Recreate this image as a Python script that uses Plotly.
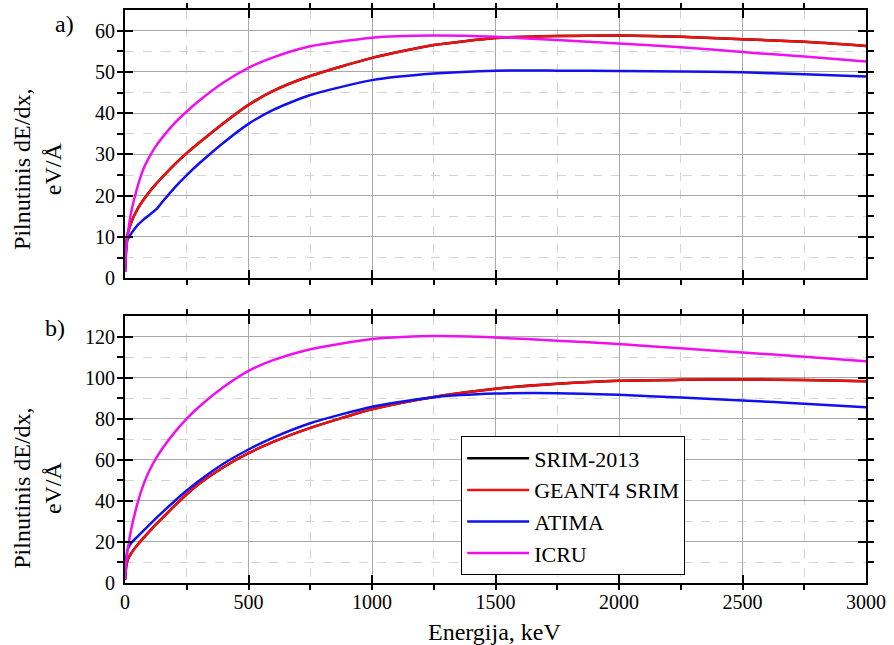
import plotly.graph_objects as go

energy = [0, 5, 10, 25, 50, 75, 100, 125, 150, 200, 250, 300, 400, 500, 600, 750,
          1000, 1250, 1500, 1750, 2000, 2250, 2500, 2750, 3000]

# panel a)
srim_a = [1.5, 8, 10.5, 13.5, 16.7, 19.0, 21.0, 22.8, 24.4, 27.5, 30.3, 32.8, 37.6, 42.0, 45.4, 49.0,
          53.4, 56.5, 58.2, 58.7, 58.8, 58.5, 57.9, 57.3, 56.3]
geant_a = [1.5, 8, 10.5, 13.5, 16.7, 19.0, 21.0, 22.8, 24.4, 27.5, 30.3, 32.8, 37.6, 42.0, 45.4, 49.0,
           53.4, 56.5, 58.2, 58.7, 58.8, 58.5, 57.9, 57.3, 56.3]
atima_a = [1.5, 7, 9.3, 10.8, 12.8, 14.2, 15.4, 16.6, 18.4, 21.9, 25, 27.8, 32.9, 37.4, 40.8, 44.4,
           48.0, 49.6, 50.3, 50.3, 50.2, 50.1, 49.9, 49.4, 48.9]
icru_a = [1.5, 7, 10, 16, 22, 26.5, 29.5, 32, 34, 37.5, 40.4, 43, 47.5, 51.0, 53.5, 56.2,
          58.3, 58.8, 58.5, 57.7, 56.9, 56.0, 54.8, 53.7, 52.5]

# panel b)
srim_b = [1.5, 8, 11, 14.5, 18.5, 22, 25.3, 28.5, 31.5, 37.5, 43.2, 48.3, 56.5, 63.2, 68.7, 75.5,
          84.6, 90.6, 94.6, 97, 98.5, 98.9, 99.1, 98.8, 98.2]
geant_b = [1.5, 8, 11, 14.5, 18.5, 22, 25.3, 28.5, 31.5, 37.5, 43.2, 48.3, 56.5, 63.2, 68.7, 75.5,
           84.6, 90.6, 94.6, 97, 98.5, 98.9, 99.1, 98.8, 98.2]
atima_b = [2, 12, 16, 19.5, 22.5, 25.5, 28.5, 31.5, 34.3, 39.8, 45, 49.8, 58.2, 65, 70.8, 77.8,
           85.8, 90.4, 92.2, 92.4, 91.6, 90.3, 88.9, 87.3, 85.6]
icru_b = [2, 10, 15.5, 26, 38.5, 48, 55, 60.5, 65.2, 73.2, 80, 85.8, 95.5, 103.3, 108.5, 113.8,
          118.8, 120.2, 119.5, 118, 116.3, 114.3, 112.2, 110.2, 108]

names = ["SRIM-2013", "GEANT4 SRIM", "ATIMA", "ICRU"]
colors = ["#000000", "#ee1111", "#1111ee", "#ee11ee"]

FONT = "Liberation Serif"

fig = go.Figure()
for name, col, ya, yb in zip(names, colors, [srim_a, geant_a, atima_a, icru_a],
                             [srim_b, geant_b, atima_b, icru_b]):
    fig.add_trace(go.Scatter(x=energy, y=ya, mode="lines", name=name, showlegend=False,
                             line=dict(color=col, width=2.5, shape="spline", smoothing=0.6),
                             xaxis="x2", yaxis="y2"))
    fig.add_trace(go.Scatter(x=energy, y=yb, mode="lines", name=name, showlegend=True,
                             line=dict(color=col, width=2.5, shape="spline", smoothing=0.6),
                             xaxis="x", yaxis="y"))

grid_major = "#a8a8a8"
grid_minor = "#d4d4d4"

def xax(show_labels, anchor):
    return dict(range=[0, 3000], dtick=500, tick0=0, showgrid=True, gridcolor=grid_major, gridwidth=1,
                ticks="inside", ticklen=8, tickwidth=2, tickcolor="black",
                showline=True, linecolor="black", linewidth=2, mirror="allticks",
                showticklabels=show_labels, zeroline=False, anchor=anchor,
                tickfont=dict(family=FONT, size=20, color="black"),
                minor=dict(dtick=250, ticklen=5, tickwidth=1.5, tickcolor="black",
                           showgrid=True, gridcolor=grid_minor, griddash="dash", gridwidth=1))

def yax(rng, dt, mdt, dom, anchor):
    return dict(range=rng, dtick=dt, tick0=0, domain=dom, showgrid=True, gridcolor=grid_major, gridwidth=1,
                ticks="inside", ticklen=8, tickwidth=2, tickcolor="black",
                showline=True, linecolor="black", linewidth=2, mirror="allticks",
                zeroline=False, anchor=anchor, ticklabelstandoff=4,
                tickfont=dict(family=FONT, size=20, color="black"),
                minor=dict(dtick=mdt, ticklen=6, tickwidth=1.5, tickcolor="black",
                           showgrid=True, gridcolor=grid_minor, griddash="dash", gridwidth=1))

fig.update_layout(
    width=894, height=645,
    margin=dict(l=125, r=24, t=8, b=62),
    paper_bgcolor="white", plot_bgcolor="white",
    font=dict(family=FONT, color="black"),
    xaxis=xax(True, "y"),
    yaxis=yax([0, 130], 20, 10, [0, 0.466], "x"),
    xaxis2=xax(False, "y2"),
    yaxis2=yax([0, 65], 10, 5, [0.532, 1], "x2"),
    legend=dict(x=0.4537, y=0.2557, xanchor="left", yanchor="top",
                bgcolor="white", bordercolor="black", borderwidth=1,
                font=dict(family=FONT, size=22, color="black"),
                itemwidth=62, tracegroupgap=0),
    annotations=[
        dict(text="a)", x=64, y=22, xref="paper", yref="paper", showarrow=False,
             font=dict(family=FONT, size=24)),
        dict(text="b)", x=55, y=327, xref="paper", yref="paper", showarrow=False,
             font=dict(family=FONT, size=24)),
        dict(text="Pilnutinis dE/dx,<br>eV/Å", x=37, y=168, xref="paper", yref="paper",
             showarrow=False, textangle=-90, font=dict(family=FONT, size=24)),
        dict(text="Pilnutinis dE/dx,<br>eV/Å", x=37, y=488, xref="paper", yref="paper",
             showarrow=False, textangle=-90, font=dict(family=FONT, size=24)),
        dict(text="Energija, keV", x=497, y=632, xref="paper", yref="paper", showarrow=False,
             font=dict(family=FONT, size=24)),
    ],
)

# convert pixel positions of annotations to paper coordinates
plot_l, plot_w, plot_bottom, plot_h = 125, 745, 583, 575
for ann in fig.layout.annotations:
    ann.x = (ann.x - plot_l) / plot_w
    ann.y = (plot_bottom - ann.y) / plot_h
    ann.xanchor = "center"
    ann.yanchor = "middle"

fig.write_html("out.html")
